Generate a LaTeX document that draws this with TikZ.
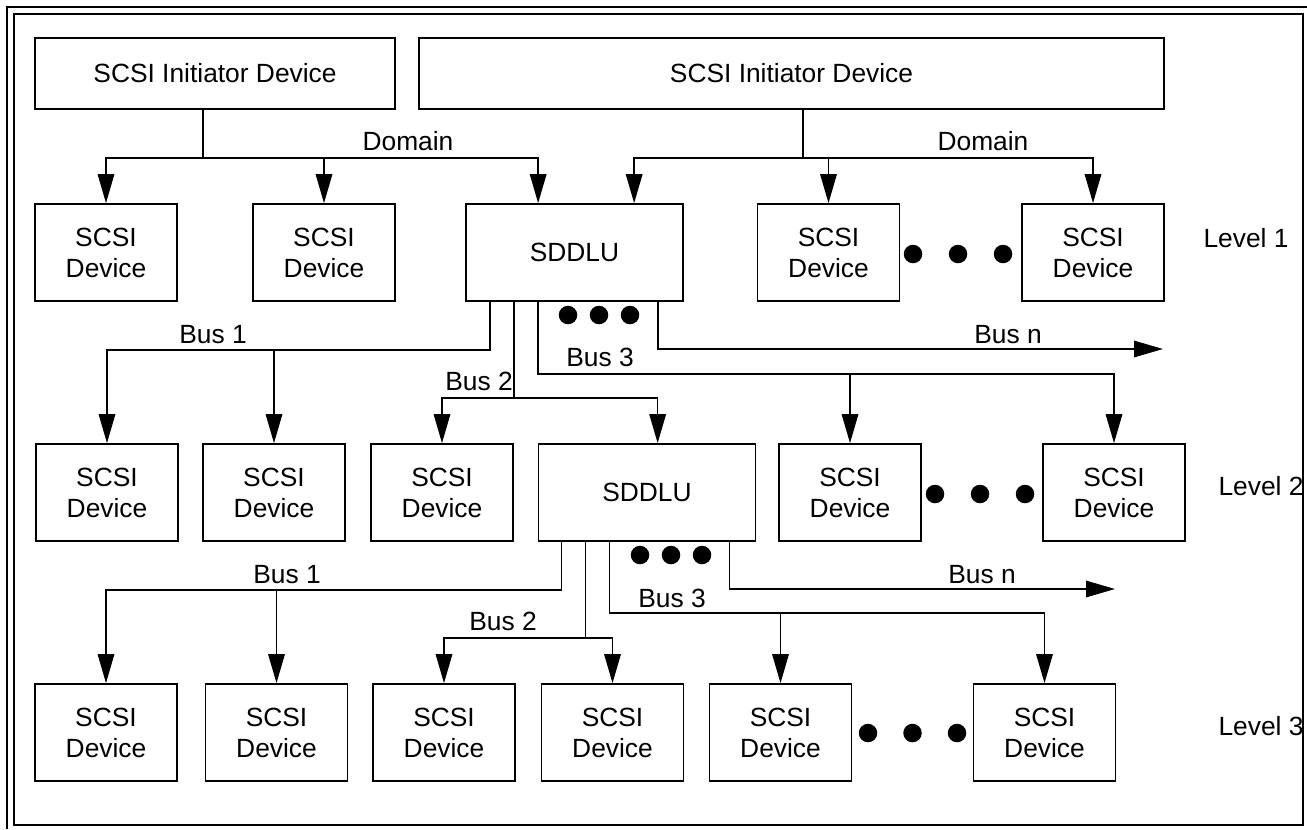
\documentclass[tikz,border=0pt]{standalone}
\usepackage{fontspec}
\setmainfont{Liberation Sans}
\usetikzlibrary{calc,positioning,arrows.meta}

\begin{document}
\begin{tikzpicture}[
    x=0.02cm, y=-0.02cm,
    font=\fontsize{15}{17.6}\selectfont,
    box/.style={draw, line width=1pt, align=center, inner sep=0pt,
      minimum width=2.84cm, minimum height=1.94cm},
    init/.style={box, minimum height=1.42cm},
    sddlu/.style={box, minimum width=4.34cm},
    bus/.style={line width=0.9pt},
    arr/.style={bus, -{Triangle[length=0.58cm,width=0.33cm]}},
    dot/.style={circle, fill, inner sep=0pt, minimum size=0.37cm},
    lbl/.style={anchor=base}]

    \useasboundingbox (0,0) rectangle (1307,829);

    % frame
    \draw[line width=1pt] (1307,7) -- (7,7) -- (7,829);
    \draw[line width=1pt] (14,14) rectangle (1303,825);

    % vertices

    \node[init, minimum width=7.2cm] (init1) at (215,73.5) {SCSI Initiator Device};
    \node[init, minimum width=14.9cm] (init2) at (791.5,73.5) {SCSI Initiator Device};

    \node[box] (d1a) at (106,252.5) {SCSI\\Device};
    \node[box] (d1b) at (324,252.5) {SCSI\\Device};
    \node[sddlu] (sddlu1) at (574.5,252.5) {SDDLU};
    \node[box] (d1c) at (828.5,252.5) {SCSI\\Device};
    \node[box] (d1d) at (1093,252.5) {SCSI\\Device};

    \node[box] (d2a) at (107,492.5) {SCSI\\Device};
    \node[box] (d2b) at (274,492.5) {SCSI\\Device};
    \node[box] (d2c) at (442,492.5) {SCSI\\Device};
    \node[sddlu] (sddlu2) at (647,492.5) {SDDLU};
    \node[box] (d2d) at (850,492.5) {SCSI\\Device};
    \node[box] (d2e) at (1114,492.5) {SCSI\\Device};

    \node[box] (d3a) at (106,732.5) {SCSI\\Device};
    \node[box] (d3b) at (276.5,732.5) {SCSI\\Device};
    \node[box] (d3c) at (444,732.5) {SCSI\\Device};
    \node[box] (d3d) at (612.5,732.5) {SCSI\\Device};
    \node[box] (d3e) at (780.5,732.5) {SCSI\\Device};
    \node[box] (d3f) at (1044.5,732.5) {SCSI\\Device};

    % dots
    \node[dot] (e1a) at (913,254) {};
    \node[dot] (e1b) at (958,254) {};
    \node[dot] (e1c) at (1003,254) {};
    \node[dot] (f1a) at (568,315) {};
    \node[dot] (f1b) at (599,315) {};
    \node[dot] (f1c) at (630,315) {};
    \node[dot] (e2a) at (935,494) {};
    \node[dot] (e2b) at (980,494) {};
    \node[dot] (e2c) at (1025,494) {};
    \node[dot] (f2a) at (640,555) {};
    \node[dot] (f2b) at (671,555) {};
    \node[dot] (f2c) at (702,555) {};
    \node[dot] (e3a) at (868,733) {};
    \node[dot] (e3b) at (912.5,733) {};
    \node[dot] (e3c) at (957,733) {};

    % labels
    \node[lbl] (dom1lbl) at (408,150) {Domain};
    \node[lbl] (dom2lbl) at (983,150) {Domain};
    \node[lbl] (b11lbl) at (213,343) {Bus 1};
    \node[lbl] (b12lbl) at (479,390) {Bus 2};
    \node[lbl] (b13lbl) at (600,366) {Bus 3};
    \node[lbl] (bn1lbl) at (1008,343) {Bus n};
    \node[lbl] (b21lbl) at (287,583) {Bus 1};
    \node[lbl] (b22lbl) at (503,630) {Bus 2};
    \node[lbl] (b23lbl) at (672,607) {Bus 3};
    \node[lbl] (bn2lbl) at (982,583) {Bus n};
    \node[lbl] (lev1) at (1246,247) {Level 1};
    \node[lbl] (lev2) at (1261,495) {Level 2};
    \node[lbl] (lev3) at (1261,735) {Level 3};

    \coordinate (bn1) at (1163,349);
    \coordinate (bn2) at (1115,589);

    % edges

    \draw[arr] ($(init1.south)+(-12,0)$) -- ++(0,48) coordinate (dom1) -| (d1a.north);
    \draw[arr] (dom1) -| (d1b.north);
    \draw[arr] (dom1) -| ($(sddlu1.north west)+(73,0)$);

    \draw[arr] ($(init2.south)+(11.5,0)$) -- ++(0,48) coordinate (dom2) -| ($(sddlu1.north west)+(169,0)$);
    \draw[arr] (dom2) -| (d1c.north);
    \draw[arr] (dom2) -| (d1d.north);

    \draw[arr] ($(sddlu1.south west)+(25,0)$) -- ++(0,48) coordinate (b11) -| (d2a.north);
    \draw[arr] (b11 -| d2b.north) -- (d2b.north);
    \draw[arr] ($(sddlu1.south west)+(49,0)$) -- ++(0,96) coordinate (b12) -| (d2c.north);
    \draw[arr] (b12) -| ($(sddlu2.north west)+(120,0)$);
    \draw[arr] ($(sddlu1.south west)+(73,0)$) -- ++(0,72) coordinate (b13) -| (d2e.north);
    \draw[arr] (b13 -| d2d.north) -- (d2d.north);
    \draw[arr] ($(sddlu1.south west)+(193,0)$) |- (bn1);

    \draw[arr] ($(sddlu2.south west)+(24,0)$) -- ++(0,48) coordinate (b21) -| (d3a.north);
    \draw[arr] (b21 -| d3b.north) -- (d3b.north);
    \draw[arr] ($(sddlu2.south west)+(48,0)$) -- ++(0,96) coordinate (b22) -| (d3c.north);
    \draw[arr] (b22) -| (d3d.north);
    \draw[arr] ($(sddlu2.south west)+(72,0)$) -- ++(0,71) coordinate (b23) -| (d3f.north);
    \draw[arr] (b23 -| d3e.north) -- (d3e.north);
    \draw[arr] ($(sddlu2.south west)+(192,0)$) |- (bn2);
  \end{tikzpicture}
\end{document}
